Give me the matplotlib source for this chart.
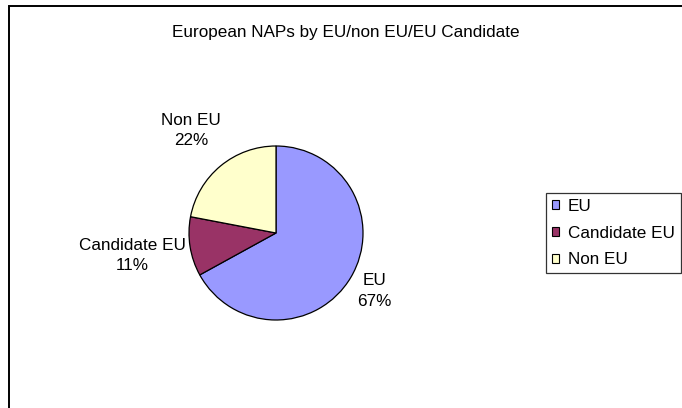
import matplotlib
matplotlib.use("Agg")
import matplotlib.pyplot as plt
import numpy as np
from matplotlib.patches import Rectangle

# data
categories = ["EU", "Candidate EU", "Non EU"]
shares = [67, 11, 22]
colors = ["#9999FF", "#993366", "#FFFFCC"]
title = "European NAPs by EU/non EU/EU Candidate"

plt.rcParams["font.family"] = ["Liberation Sans", "DejaVu Sans"]
FS = 12.3

W, H = 682, 408
fig = plt.figure(figsize=(W / 100, H / 100), dpi=100)
ax = fig.add_axes([0, 0, 1, 1])
ax.set_xlim(0, W)
ax.set_ylim(0, H)
ax.axis("off")

# chart area border (runs off right/bottom edges)
ax.add_patch(Rectangle((9, -10), 700, H - 6 + 10, fill=False,
                       edgecolor="black", linewidth=1.4, clip_on=False))

ax.text(346, H - 32, title, ha="center", va="center", fontsize=FS)

total = sum(shares)
labels = [f"{c}\n{round(100 * v / total)}%" for c, v in zip(categories, shares)]
cx, cy, r = 276, H - 233, 87
wedges, texts = ax.pie(shares, labels=labels, colors=colors, startangle=90,
                       counterclock=False, center=(cx, cy), radius=r,
                       wedgeprops=dict(edgecolor="black", linewidth=0.9),
                       textprops=dict(fontsize=FS, linespacing=1.45))
ax.set_xlim(0, W)
ax.set_ylim(0, H)
ax.set_aspect("equal")

# per-slice label distance (in radii), Excel-like placement
label_dist = [1.31, 1.67, 1.53]
for w, t, d in zip(wedges, texts, label_dist):
    mid = np.deg2rad((w.theta1 + w.theta2) / 2)
    t.set_position((cx + d * r * np.cos(mid), cy + d * r * np.sin(mid)))
    t.set_ha("center")
    t.set_va("center")
    t.set_multialignment("center")

leg = ax.legend(wedges, categories, loc="center left",
                bbox_to_anchor=(546 / W, (H - 233) / H), borderaxespad=0,
                fontsize=FS, frameon=True, fancybox=False, edgecolor="black",
                handlelength=0.42, handleheight=0.42, handletextpad=0.5,
                borderpad=0.35, labelspacing=0.7)
leg.get_frame().set_linewidth(0.9)
for h in leg.legend_handles:
    h.set_edgecolor("black")
    h.set_linewidth(0.8)

fig.savefig("out.png", dpi=100)
